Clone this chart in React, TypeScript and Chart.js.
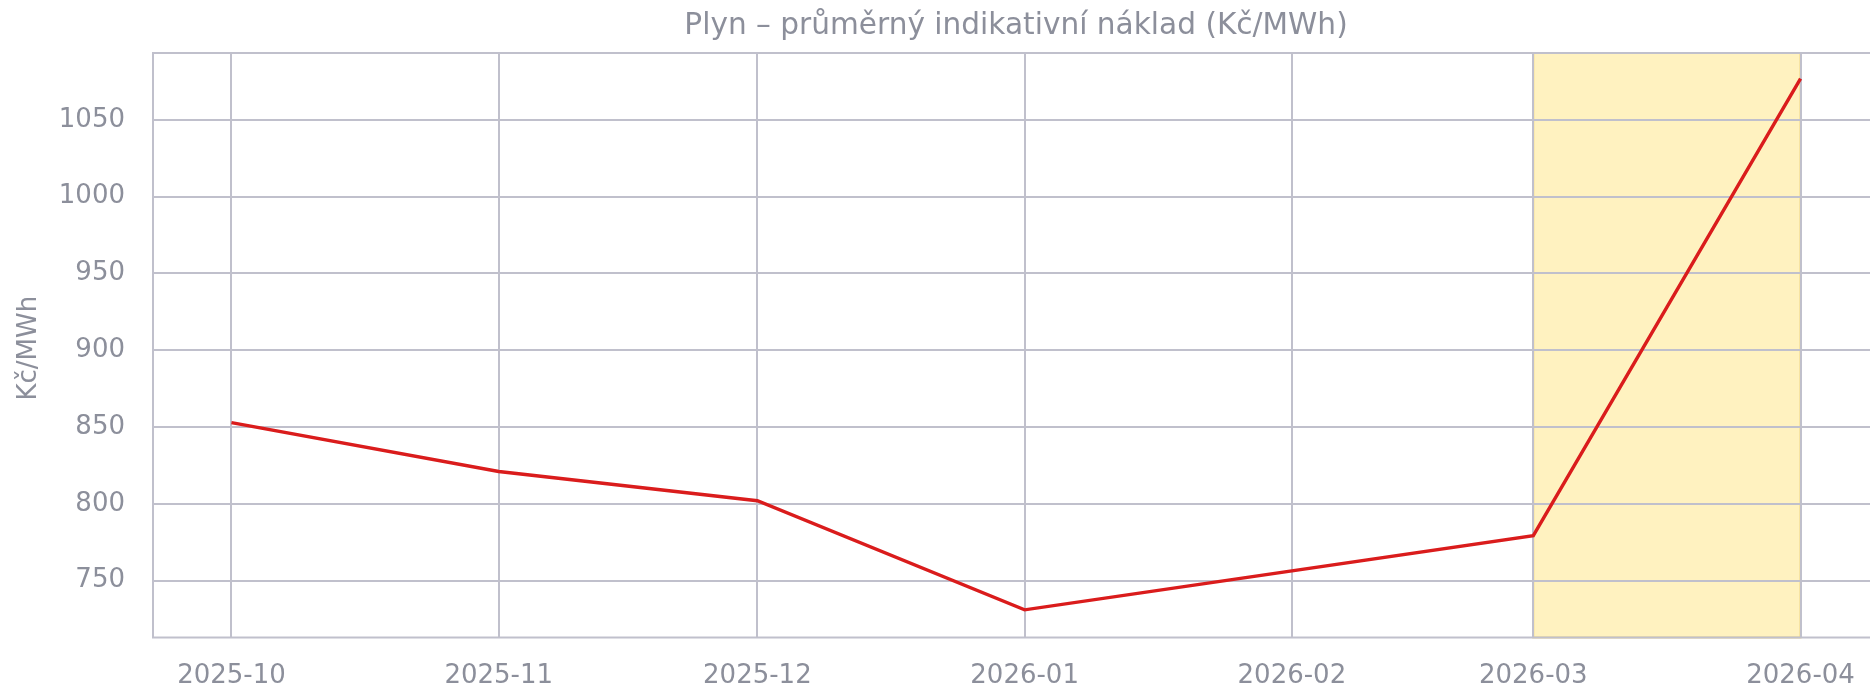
import React, { useEffect, useRef } from "react";
import { Chart, registerables } from "chart.js";

Chart.register(...registerables);

const chartTitle = "Plyn – průměrný indikativní náklad (Kč/MWh)";
const yAxisTitle = "Kč/MWh";
const pointDates = ["2025-10-01", "2025-11-01", "2025-12-01", "2026-01-01", "2026-03-01", "2026-04-01"];
const pointValues = [852.9, 821.0, 802.0, 730.9, 779.2, 1076.9];
const xTickMonths = ["2025-10", "2025-11", "2025-12", "2026-01", "2026-02", "2026-03", "2026-04"];
const yTickValues = [750, 800, 850, 900, 950, 1000, 1050];
const highlightRange = ["2026-03-01", "2026-04-01"];
const yRange = [712.9, 1093.6];

const toMs = (d: string) => {
  const [y, m, day] = d.split("-").map(Number);
  return Date.UTC(y, m - 1, day || 1);
};

const FONT = "'DejaVu Sans', sans-serif";
const TEXT = "#8c8f9b";
const GRID = "#c0c0cc";

export default function App() {
  const ref = useRef<HTMLCanvasElement | null>(null);

  useEffect(() => {
    if (!ref.current) return;
    const xs = pointDates.map(toMs);
    const span = xs[xs.length - 1] - xs[0];
    const xMin = xs[0] - span * 0.05;
    const xMax = xs[xs.length - 1] + span * 0.05;

    const decorPlugin = {
      id: "decor",
      beforeDraw(chart: any) {
        const { ctx, chartArea, scales } = chart;
        const x0 = scales.x.getPixelForValue(toMs(highlightRange[0]));
        const x1 = scales.x.getPixelForValue(toMs(highlightRange[1]));
        ctx.save();
        ctx.fillStyle = "#fff2c0";
        ctx.fillRect(x0, chartArea.top, x1 - x0, chartArea.bottom - chartArea.top);
        ctx.strokeStyle = "rgba(235, 205, 110, 0.8)";
        ctx.lineWidth = 2;
        ctx.strokeRect(x0, chartArea.top, x1 - x0, chartArea.bottom - chartArea.top);
        ctx.restore();
      },
      beforeDatasetsDraw(chart: any) {
        const { ctx, chartArea } = chart;
        ctx.save();
        ctx.strokeStyle = GRID;
        ctx.lineWidth = 2;
        ctx.strokeRect(chartArea.left, chartArea.top, chartArea.right - chartArea.left, chartArea.bottom - chartArea.top);
        ctx.restore();
      },
      afterDraw(chart: any) {
        const { ctx, chartArea } = chart;
        ctx.save();
        ctx.fillStyle = TEXT;
        ctx.textAlign = "center";
        ctx.textBaseline = "middle";
        ctx.font = `29.6px ${FONT}`;
        ctx.fillText(chartTitle, (chartArea.left + chartArea.right) / 2, 26);
        ctx.font = `26px ${FONT}`;
        ctx.translate(29, (chartArea.top + chartArea.bottom) / 2 + 3);
        ctx.rotate(-Math.PI / 2);
        ctx.fillText(yAxisTitle, 0, 0);
        ctx.restore();
      },
    };

    const chart = new Chart(ref.current, {
      type: "line",
      data: {
        datasets: [
          {
            data: pointDates.map((d, i) => ({ x: toMs(d), y: pointValues[i] })),
            borderColor: "#da1c1c",
            borderWidth: 3.4,
            pointRadius: 0,
            tension: 0,
            fill: false,
          },
        ],
      },
      options: {
        animation: false,
        responsive: true,
        maintainAspectRatio: false,
        layout: { padding: { top: 53, right: 1, bottom: 0, left: 0 } },
        plugins: {
          legend: { display: false },
          tooltip: { enabled: false },
          title: { display: false },
        },
        scales: {
          x: {
            type: "linear",
            min: xMin,
            max: xMax,
            afterBuildTicks: (scale: any) => {
              scale.ticks = xTickMonths.map((m) => ({ value: toMs(m + "-01") }));
            },
            afterFit: (scale: any) => {
              scale.height = 57.5;
            },
            ticks: {
              color: TEXT,
              font: { family: FONT, size: 26 },
              padding: 23.5,
              autoSkip: false,
              maxRotation: 0,
              callback: (v: any) => new Date(Number(v)).toISOString().slice(0, 7),
            },
            grid: { color: GRID, lineWidth: 2, drawTicks: false },
            border: { display: false },
          },
          y: {
            min: yRange[0],
            max: yRange[1],
            afterBuildTicks: (scale: any) => {
              scale.ticks = yTickValues.map((v) => ({ value: v }));
            },
            afterFit: (scale: any) => {
              scale.width = 153;
            },
            ticks: {
              color: TEXT,
              font: { family: FONT, size: 26 },
              padding: 28,
              callback: (v: any) => String(v),
            },
            grid: { color: GRID, lineWidth: 2, drawTicks: false },
            border: { display: false },
          },
        },
      },
      plugins: [decorPlugin],
    });
    return () => chart.destroy();
  }, []);

  return (
    <div style={{ position: "fixed", left: 0, top: 0, width: "100vw", height: "100vh", overflow: "hidden", background: "#fff" }}>
      <div style={{ position: "absolute", left: 0, top: 0, width: 1880, height: 695 }}>
        <canvas ref={ref} />
      </div>
    </div>
  );
}
